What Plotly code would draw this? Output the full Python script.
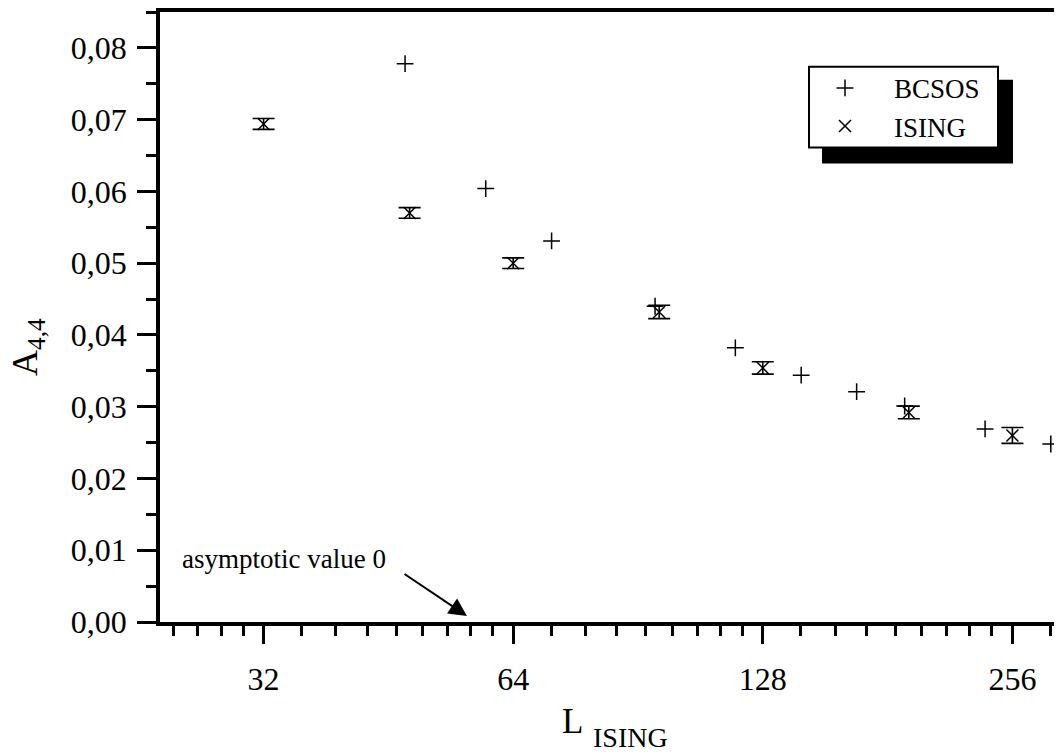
import math
import plotly.graph_objects as go

# ---- data ----
bcsos_L = [47.4, 59.3, 71.2, 94.9, 118.6, 142.4, 166.1, 189.8, 237.3, 284.8]
bcsos_A = [0.0778, 0.0604, 0.0531, 0.0440, 0.0382, 0.0344, 0.0321, 0.0301, 0.0269, 0.0248]

ising_L = [32, 48, 64, 96, 128, 192, 256]
ising_A = [0.0694, 0.0570, 0.0500, 0.0432, 0.0354, 0.0292, 0.0260]
ising_err = [0.00076, 0.00074, 0.00074, 0.00093, 0.00086, 0.00088, 0.00111]

x_tick_vals = [32, 64, 128, 256]
x_tick_text = ["32", "64", "128", "256"]
y_tick_vals = [0.00, 0.01, 0.02, 0.03, 0.04, 0.05, 0.06, 0.07, 0.08]
y_tick_text = ["0,00", "0,01", "0,02", "0,03", "0,04", "0,05", "0,06", "0,07", "0,08"]

x_range = [24, 293.8]
y_range = [0, 0.085]

FONT = "Liberation Serif"

# minor ticks: 8 linear subdivisions inside each octave
minor_x = []
for base in [16, 32, 64, 128, 256]:
    for k in range(1, 9):
        v = base + k * base / 9
        if x_range[0] < v < x_range[1]:
            minor_x.append(v)

fig = go.Figure()
fig.add_trace(go.Scatter(
    x=bcsos_L, y=bcsos_A, mode="markers", name="BCSOS",
    marker=dict(symbol="cross-thin", size=12, color="black",
                line=dict(color="black", width=1.5)),
))
fig.add_trace(go.Scatter(
    x=ising_L, y=ising_A, mode="markers", name="ISING",
    marker=dict(symbol="x-thin", size=12, color="black",
                line=dict(color="black", width=1.5)),
    error_y=dict(type="data", array=ising_err, visible=True,
                 color="black", thickness=1.6, width=11),
))

fig.update_xaxes(
    type="log", range=[math.log10(x_range[0]), math.log10(x_range[1])],
    tickmode="array", tickvals=x_tick_vals, ticktext=x_tick_text,
    ticks="outside", ticklen=18, tickwidth=3, tickcolor="black",
    showline=True, linewidth=3.5, linecolor="black", mirror=True,
    showgrid=False, zeroline=False,
    tickfont=dict(family=FONT, size=32, color="black"),
    ticklabelstandoff=8,
    minor=dict(tickmode="array", tickvals=minor_x, ticks="outside",
               ticklen=10, tickwidth=3, tickcolor="black", showgrid=False),
)
fig.update_yaxes(
    range=y_range,
    tickmode="array", tickvals=y_tick_vals, ticktext=y_tick_text,
    ticks="outside", ticklen=19, tickwidth=3, tickcolor="black",
    showline=True, linewidth=3.5, linecolor="black", mirror=False,
    showgrid=False, zeroline=False,
    tickfont=dict(family=FONT, size=32, color="black"),
    ticklabelstandoff=4,
    minor=dict(dtick=0.005, tick0=0, ticks="outside", ticklen=10,
               tickwidth=3, tickcolor="black", showgrid=False),
)

# the page body adds an 8 px offset; lay out in screen pixels
OFF = 8
SW, SH = 1062, 753
W, H = SW - OFF, SH - OFF
PLOT_L, PLOT_R, PLOT_T, PLOT_B = 160, 1062, 10, 622   # screen pixels
L_M, R_M, T_M = PLOT_L - OFF, SW - PLOT_R, PLOT_T - OFF
B_M = SH - PLOT_B
PW = PLOT_R - PLOT_L
PH = PLOT_B - PLOT_T

def px_x(p):
    return (p - PLOT_L) / PW

def px_y(p):
    return (PLOT_B - p) / PH

# legend shadow and frame (legend items drawn on top)
fig.add_shape(type="rect", xref="paper", yref="paper",
              x0=px_x(822), x1=px_x(1013), y0=px_y(162), y1=px_y(78),
              fillcolor="black", line=dict(color="black", width=0), layer="above")
fig.add_shape(type="rect", xref="paper", yref="paper",
              x0=px_x(809), x1=px_x(998), y0=px_y(146), y1=px_y(65),
              fillcolor="white", line=dict(color="black", width=2), layer="above")

annotations = [
    dict(text="asymptotic value 0", xref="paper", yref="paper",
         x=px_x(180), y=px_y(559), xanchor="left", yanchor="middle",
         showarrow=False, font=dict(family=FONT, size=27, color="black")),
    dict(text="", xref="x", yref="y",
         x=math.log10(24 * 2 ** ((467 - PLOT_L) / 249.6)), y=(622 - 616) / 7200,
         ax=-64, ay=-43, showarrow=True, arrowhead=2, arrowsize=1.8,
         arrowwidth=2, arrowcolor="black"),
    dict(text="L", xref="paper", yref="paper", x=px_x(572), y=px_y(722),
         xanchor="center", yanchor="middle", showarrow=False,
         font=dict(family=FONT, size=35, color="black")),
    dict(text="ISING", xref="paper", yref="paper", x=px_x(630), y=px_y(738),
         xanchor="center", yanchor="middle", showarrow=False,
         font=dict(family=FONT, size=28, color="black")),
    dict(text="A<sub>4,4</sub>", xref="paper", yref="paper", x=px_x(28), y=px_y(346),
         xanchor="center", yanchor="middle", showarrow=False, textangle=-90,
         font=dict(family=FONT, size=36, color="black")),
]

fig.update_layout(
    width=W, height=H,
    margin=dict(l=L_M, r=R_M, t=T_M, b=B_M, pad=0),
    paper_bgcolor="white", plot_bgcolor="white",
    showlegend=True,
    legend=dict(x=px_x(796), y=px_y(62), xanchor="left", yanchor="top",
                bgcolor="rgba(0,0,0,0)", borderwidth=0,
                font=dict(family=FONT, size=27, color="black"),
                itemwidth=88, tracegroupgap=0),
    annotations=annotations,
    font=dict(family=FONT, color="black"),
)

fig.write_html("out.html")
